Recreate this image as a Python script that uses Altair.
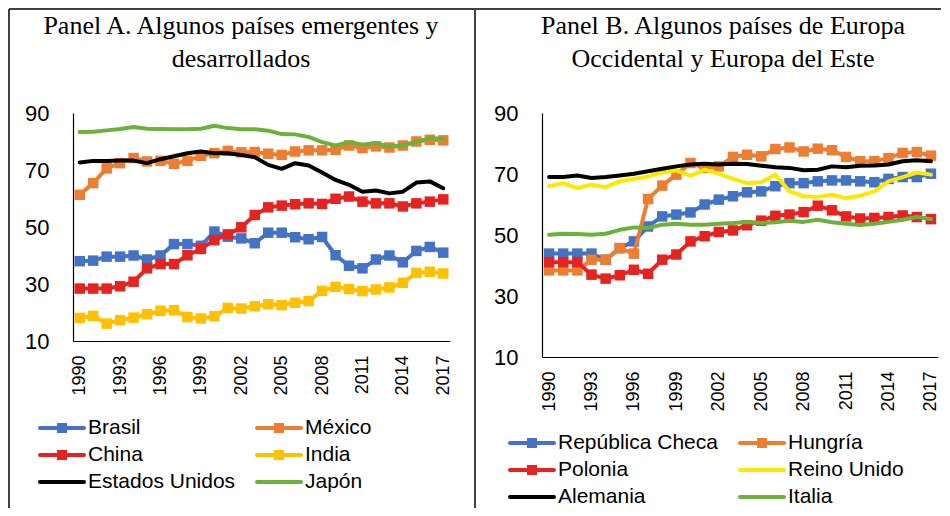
import altair as alt
import pandas as pd

years = list(range(1990, 2018))

# Panel A
names_a = ["Brasil", "México", "China", "India", "Estados Unidos", "Japón"]
colors_a = ["#4472C4", "#ED7D31", "#E52421", "#FFC000", "#000000", "#6AB23A"]
markers_a = [True, True, True, True, False, False]
brasil = [38, 38.2, 39.6, 39.6, 40, 38.6, 40, 44, 44, 43.4, 48.4, 46.6, 46, 44.3, 48, 48, 46.4, 45.7, 46.5, 40.1, 36.4, 35.5, 38.6, 40, 37.6, 41.6, 43, 41]
mexico = [61.3, 65.4, 70.6, 72.4, 74.2, 73, 73.2, 72.2, 73.2, 75, 75.9, 76.7, 76.2, 76.3, 75.7, 75.3, 76.5, 76.9, 76.9, 77.1, 78.6, 77.7, 78.3, 77.9, 78.6, 80, 80.6, 80.4]
china = [28.4, 28.4, 28.4, 29.2, 30.8, 35.5, 37, 37, 40.1, 42.3, 45.4, 47.4, 49.9, 54.2, 56.9, 57.5, 58, 58.3, 58.1, 59.9, 60.7, 58.9, 58.3, 58.3, 57.2, 58.3, 58.9, 59.7]
india = [18.1, 18.8, 16.1, 17.3, 18.2, 19.4, 20.6, 20.8, 18.4, 17.9, 18.7, 21.6, 21.4, 22.2, 22.9, 22.6, 23.4, 24, 27.6, 29, 28.2, 27.5, 28.1, 28.8, 30.4, 33.9, 34.3, 33.7]
eeuu = [72.6, 73.2, 73.2, 73.3, 73.3, 72.4, 73.8, 74.8, 75.9, 76.5, 75.9, 75.9, 75.3, 74.5, 71.8, 70.4, 72.4, 71.6, 69.1, 66.5, 64.8, 62.4, 62.8, 61.8, 62.4, 65.6, 66, 63.6]
japon = [83.3, 83.4, 83.9, 84.4, 85.1, 84.5, 84.4, 84.3, 84.3, 84.5, 85.5, 84.7, 84.3, 84.3, 83.8, 82.6, 82.5, 81.6, 79.8, 78.6, 79.8, 78.9, 79.4, 78.3, 78.6, 79.8, 81.2, 80.9]
series_a = [brasil, mexico, china, india, eeuu, japon]

# Panel B
names_b = ["República Checa", "Hungría", "Polonia", "Reino Unido", "Alemania", "Italia"]
colors_b = ["#4472C4", "#ED7D31", "#E52421", "#FFE800", "#000000", "#6AB23A"]
markers_b = [True, True, True, False, False, False]
checa = [43.9, 43.9, 43.9, 43.9, 41.9, 45.7, 47.9, 52.8, 56.1, 56.7, 57.4, 60, 61.6, 62.7, 64, 64.3, 66, 67, 67, 67.6, 67.9, 67.9, 67.6, 67.3, 68.4, 69, 69, 70.1]
hungria = [38.4, 38.4, 38.4, 41.9, 41.9, 45.7, 43.9, 61.8, 66.2, 69.8, 73.6, 72, 72.5, 75.6, 76.3, 75.8, 78.2, 78.7, 77.4, 78.3, 77.8, 75.6, 74.2, 74.2, 75.2, 76.9, 77.2, 76]
polonia = [41.1, 41.1, 41.1, 37, 35.7, 36.8, 38.6, 37.3, 41.9, 43.6, 47.9, 49.6, 51, 51.5, 53.2, 54.7, 56.3, 56.7, 57.5, 59.6, 58.1, 56.1, 55.4, 55.6, 55.9, 56.4, 55.9, 55.2]
reino = [66, 67, 65.4, 66.5, 65.7, 67.6, 68.4, 69.2, 70.5, 71.2, 69.5, 71.4, 70.1, 68.4, 67, 67.3, 69.8, 64.3, 62.7, 62.5, 63.2, 62.1, 62.9, 64.3, 67.6, 69, 70.5, 69.8]
alemania = [69, 69, 69.5, 68.7, 69, 69.5, 70.1, 70.9, 71.7, 72.5, 73.1, 73.4, 73.1, 73.4, 73.3, 72.7, 72.2, 72, 71.2, 71.4, 72.5, 72.2, 72.7, 72.8, 73.1, 74.2, 74.5, 74.2]
italia = [50.1, 50.4, 50.3, 50.1, 50.4, 51.7, 52.5, 52.3, 53.4, 53.7, 53.4, 53.4, 53.7, 53.9, 54.3, 53.9, 54.2, 54.7, 54.3, 55, 54.2, 53.7, 53.3, 53.7, 54.3, 55, 55.9, 55.2]
series_b = [checa, hungria, polonia, reino, alemania, italia]

title_a = ["Panel A. Algunos países emergentes y", "desarrollados"]
title_b = ["Panel B. Algunos países de Europa", "Occidental y Europa del Este"]
y_ticks = [10, 30, 50, 70, 90]
x_ticks = list(range(1990, 2018, 3))

SANS = "Liberation Sans"
SERIF = "Liberation Serif"
FRAME = "#404040"


def long_df(names, colors, series, markers):
    rows = []
    for i, (n, c, s, m) in enumerate(zip(names, colors, series, markers)):
        for yr, v in zip(years, s):
            rows.append({"name": n, "col": c, "year": yr, "value": v, "marker": m, "order": i})
    return pd.DataFrame(rows)


def panel(names, colors, series, markers, titles, leg, title_x):
    df = long_df(names, colors, series, markers)
    x = alt.X("year:Q", scale=alt.Scale(domain=[1989.5, 2017.5], nice=False, zero=False),
              axis=alt.Axis(values=x_ticks, format="d", labelAngle=-90, labelAlign="right",
                            labelBaseline="middle", labelPadding=14, ticks=False, grid=False,
                            labelFont=SANS, labelFontSize=18, labelColor="#000",
                            domainColor="#000", domainWidth=1.2, title=None,
                            labelFlush=False, labelOverlap=False))
    y = alt.Y("value:Q", scale=alt.Scale(domain=[10, 90], nice=False, zero=False),
              axis=alt.Axis(values=y_ticks, ticks=False, grid=False, labelPadding=24,
                            labelFont=SANS, labelFontSize=22, labelColor="#000",
                            domainColor="#000", domainWidth=1.2, title=None))
    color = alt.Color("col:N", scale=None, legend=None)
    layers = []
    for i, n in enumerate(names):
        d = df[df["name"] == n]
        layers.append(alt.Chart(d).mark_line(strokeWidth=4, strokeJoin="round", strokeCap="round").encode(
            x=x, y=y, color=color))
        if markers[i]:
            layers.append(alt.Chart(d).mark_square(size=110, opacity=1, filled=True).encode(
                x=x, y=y, color=color))

    # legend (layout positions)
    lrows = []
    for i, n in enumerate(names):
        c, row = i % 2, i // 2
        x0 = leg["x"][c]
        lrows.append({"name": n, "col": colors[i], "x1": x0, "x2": x0 + 44, "xs": x0 + 22,
                      "xt": x0 + 48, "y": leg["y"][row], "marker": markers[i]})
    ldf = pd.DataFrame(lrows)
    layers.append(alt.Chart(ldf).mark_rule(strokeWidth=4, strokeCap="round").encode(
        x=alt.X("x1:Q", scale=None), x2="x2:Q", y=alt.Y("y:Q", scale=None), color=color))
    layers.append(alt.Chart(ldf[ldf["marker"]]).mark_square(size=100, opacity=1).encode(
        x=alt.X("xs:Q", scale=None), y=alt.Y("y:Q", scale=None), color=color))
    layers.append(alt.Chart(ldf).mark_text(align="left", baseline="middle", font=SANS,
                                           fontSize=21, color="#000").encode(
        x=alt.X("xt:Q", scale=None), y=alt.Y("y:Q", scale=None), text="name:N"))

    tdf = pd.DataFrame({"t": titles, "y": [-79, -46], "x": [title_x, title_x]})
    layers.append(alt.Chart(tdf).mark_text(align="center", baseline="alphabetic", font=SERIF,
                                           fontSize=26, color="#000").encode(
        x=alt.X("x:Q", scale=None), y=alt.Y("y:Q", scale=None), text="t:N"))
    return layers


layers_a = panel(names_a, colors_a, series_a, markers_a, title_a,
                 {"x": [-33, 184], "y": [315, 342, 369]}, 168)
layers_b = panel(names_b, colors_b, series_b, markers_b, title_b,
                 {"x": [-32, 198], "y": [330, 357, 384]}, 181)

# frame lines (layout)
frame_a = pd.DataFrame({"x1": [-64, -64, 402], "x2": [868, -64, 402],
                        "y1": [-104, -104, -104], "y2": [-104, 395, 395]})
layers_a.append(alt.Chart(frame_a).mark_rule(strokeWidth=2, color=FRAME).encode(
    x=alt.X("x1:Q", scale=None), x2="x2:Q", y=alt.Y("y1:Q", scale=None), y2="y2:Q"))

chart_a = alt.layer(*layers_a).properties(width=377, height=228)
chart_b = alt.layer(*layers_b).properties(width=396, height=244)

chart = alt.hconcat(chart_a, chart_b, spacing=92, bounds="flush").properties(
    padding=0, background="white"
).configure_view(stroke=None)

chart.save("out.html", embed_options={"renderer": "svg", "actions": False})
